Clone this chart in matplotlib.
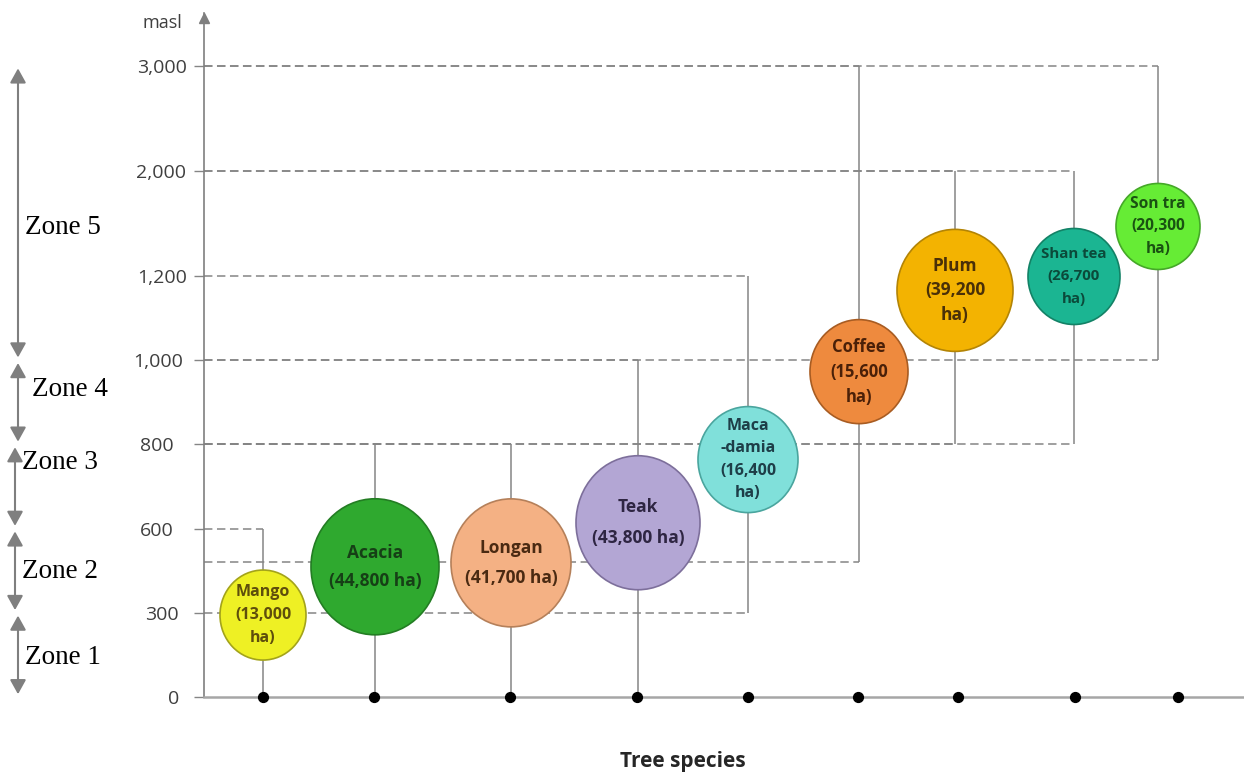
import numpy as np
import matplotlib
matplotlib.use("Agg")
import matplotlib.pyplot as plt
from matplotlib.patches import Ellipse
from matplotlib import transforms

# ---- data -------------------------------------------------------------
species = ["Mango", "Acacia", "Longan", "Teak", "Maca\n-damia",
           "Coffee", "Plum", "Shan tea", "Son tra"]
area_ha = [13000, 44800, 41700, 43800, 16400, 15600, 39200, 26700, 20300]
alt_min = [0, 0, 0, 0, 300, 480, 800, 800, 1000]       # masl
alt_max = [600, 800, 800, 1000, 1200, 3000, 2000, 2000, 3000]
bubble_alt = [292, 464, 478, 614, 764, 973, 1166, 1199, 1577]
wrap_label = [True, False, False, False, True, True, True, True, True]

tick_values = [0, 300, 600, 800, 1000, 1200, 2000, 3000]
zone_names = ["Zone 1", "Zone 2", "Zone 3", "Zone 4", "Zone 5"]
zone_bounds = [0, 300, 600, 800, 1000, 3000]

# ---- layout / style ---------------------------------------------------
tick_slots = [0, 1, 2, 3, 4, 5, 6.25, 7.5]          # even spacing of the altitude axis
species_x = [59, 171, 307, 434, 544, 655, 751, 870, 954]
dot_x = [59, 170, 306, 433, 544, 654, 754, 871, 974]
radius_px = [(43, 45), (64, 68), (60, 64), (62, 67), (50, 53),
             (49, 52), (58, 61), (46, 48), (42, 43)]
fills = ["#EEF024", "#2FA92F", "#F4B184", "#B3A6D4", "#80E0DA",
         "#EE8A3E", "#F3B301", "#1BB592", "#66EC35"]
edges = ["#A3A31A", "#237D23", "#B5805A", "#7D6F9B", "#4AA59E",
         "#A85C22", "#B38405", "#138266", "#45A828"]
text_cols = ["#5E4E0C", "#163F16", "#4A2A12", "#2E2542", "#1E3E48",
             "#4A2008", "#4A3008", "#0B4A3A", "#1A5212"]
label_size = [11.5, 12.5, 12.5, 12.5, 11.5, 12, 12.5, 10.8, 11.2]
label_spacing = [1.6, 1.7, 1.85, 1.95, 1.55, 1.5, 1.45, 1.75, 1.55]
zone_arrow_x = [18, 15, 15, 18, 18]
zone_label_x = [25, 22, 22, 32, 25]
zone_label_y = [139, 446, 756, 930, 1570]
tick_label_shift = [-8, -8, -13, -13, -4, 0, -1, 0]   # px

GRAY = "#858585"
DPI = 100
W, H = 1244, 774

ext_levels = np.array(tick_values + [4000], float)
ext_slots = np.array(tick_slots + [8.75], float)


def fwd(v):
    return np.interp(np.asarray(v, float), ext_levels, ext_slots)


def inv(u):
    return np.interp(np.asarray(u, float), ext_slots, ext_levels)


fig = plt.figure(figsize=(W / DPI, H / DPI), dpi=DPI)
ax = fig.add_axes([204 / W, 77 / H, 1040 / W, 684 / H])
ax.set_yscale("function", functions=(fwd, inv))
ax.set_xlim(0, 1040)
ax.set_ylim(0, 3500)

for side in ("top", "right"):
    ax.spines[side].set_visible(False)
ax.spines["left"].set_color("#7F7F7F")
ax.spines["left"].set_linewidth(1.2)
ax.spines["bottom"].set_color("#A6A6A6")
ax.spines["bottom"].set_linewidth(1.8)
ax.plot([0], [0.993], marker="^", markersize=7, color="#7F7F7F",
        transform=ax.transAxes, clip_on=False)

ax.tick_params(axis="x", bottom=False, labelbottom=False)
ax.set_yticks(tick_values)
ax.set_yticklabels([f"{v:,}" for v in tick_values])
ax.tick_params(axis="y", length=7.2, width=1.0, color=GRAY, pad=5,
               labelsize=14, labelcolor="#3F3F3F")
for lab, dx in zip(ax.get_yticklabels(), tick_label_shift):
    lab.set_fontfamily("Open Sans")
    lab.set_transform(lab.get_transform() +
                      transforms.ScaledTranslation(dx / DPI, 0, fig.dpi_scale_trans))

dash = (0, (5.5, 3.0))
for x, lo, hi in zip(species_x, alt_min, alt_max):
    ax.vlines(x, lo, hi, colors=GRAY, lw=1.1, zorder=1)
    for level in (lo, hi):
        if level > 0:
            ax.hlines(level, 0, x, colors=GRAY, lw=1.1, linestyles=[dash], zorder=1)

# bubbles with their labels
for i, name in enumerate(species):
    x, y = species_x[i], bubble_alt[i]
    rx, ry = radius_px[i]
    trans = fig.dpi_scale_trans + transforms.ScaledTranslation(x, y, ax.transData)
    ax.add_patch(Ellipse((0, 0), 2 * rx / DPI, 2 * ry / DPI, transform=trans,
                         facecolor=fills[i], edgecolor=edges[i], lw=1.2, zorder=3))
    area = f"{area_ha[i]:,}"
    txt = f"{name}\n({area}\nha)" if wrap_label[i] else f"{name}\n({area} ha)"
    ax.text(x, y, txt, ha="center", va="center", multialignment="center",
            fontsize=label_size[i], fontweight="bold", family="Open Sans",
            color=text_cols[i], linespacing=label_spacing[i], zorder=4)

ax.scatter(dot_x, [0] * len(dot_x), s=50, color="black", zorder=6, clip_on=False)

# altitude zones on the left
for k, name in enumerate(zone_names):
    lo, hi = zone_bounds[k], zone_bounds[k + 1]
    ax.annotate("", xy=(zone_arrow_x[k], hi), xytext=(zone_arrow_x[k], lo),
                xycoords=("figure pixels", "data"), textcoords=("figure pixels", "data"),
                arrowprops=dict(arrowstyle="<|-|>,head_length=0.72,head_width=0.4",
                                color="#7F7F7F", lw=1.5, shrinkA=2, shrinkB=2,
                                mutation_scale=12),
                annotation_clip=False)
    ax.annotate(name, xy=(zone_label_x[k], zone_label_y[k]),
                xycoords=("figure pixels", "data"), ha="left", va="center",
                fontsize=19.5, family="Liberation Serif", color="black",
                annotation_clip=False)

fig.text(162 / W, 1 - 23 / H, "masl", ha="center", va="center",
         fontsize=13, family="Open Sans", color="#3F3F3F")
fig.text(683 / W, 1 - 762 / H, "Tree species", ha="center", va="center",
         fontsize=15, fontweight="bold", family="Open Sans", color="#262626")

fig.savefig("out.png", dpi=DPI)
